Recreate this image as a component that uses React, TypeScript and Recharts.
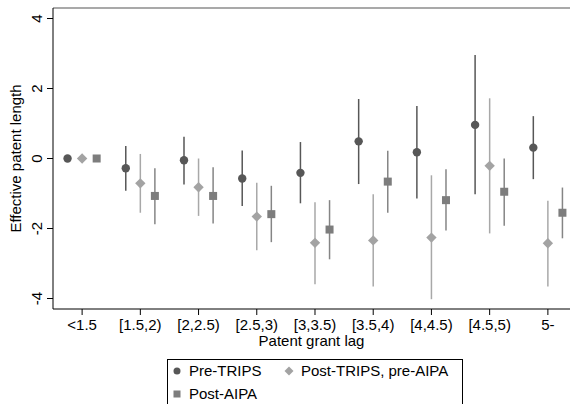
import { ErrorBar, Label, ReferenceLine, Scatter, ScatterChart, XAxis, YAxis } from 'recharts';

const categories = ['<1.5', '[1.5,2)', '[2,2.5)', '[2.5,3)', '[3,3.5)', '[3.5,4)', '[4,4.5)', '[4.5,5)', '5-'];

const preTrips = [0, -0.28, -0.05, -0.57, -0.41, 0.49, 0.18, 0.96, 0.31];
const preTripsLo = [0, -0.92, -0.74, -1.36, -1.28, -0.73, -1.14, -1.02, -0.59];
const preTripsHi = [0, 0.36, 0.62, 0.23, 0.47, 1.7, 1.5, 2.96, 1.21];

const postTrips = [0, -0.71, -0.82, -1.66, -2.41, -2.34, -2.26, -0.21, -2.42];
const postTripsLo = [0, -1.55, -1.64, -2.62, -3.59, -3.66, -4.02, -2.14, -3.66];
const postTripsHi = [0, 0.13, 0.0, -0.69, -1.25, -1.02, -0.48, 1.72, -1.21];

const postAipa = [0, -1.07, -1.07, -1.59, -2.03, -0.66, -1.19, -0.95, -1.55];
const postAipaLo = [0, -1.88, -1.86, -2.39, -2.88, -1.55, -2.06, -1.92, -2.28];
const postAipaHi = [0, -0.28, -0.25, -0.78, -1.19, 0.22, -0.31, 0.0, -0.83];

const yTicks = [-4, -2, 0, 2, 4];
const xTicks = categories.map((_, i) => i + 1);

const FONT = '"Liberation Sans", Arial, sans-serif';

function build(vals: number[], lo: number[], hi: number[], shift: number) {
  return vals.map((v, i) => ({
    x: i + 1 + shift,
    y: v,
    err: [v - lo[i], hi[i] - v],
  }));
}

const series = [
  { name: 'Pre-TRIPS', data: build(preTrips, preTripsLo, preTripsHi, -0.25), fill: '#575757', line: '#575757', kind: 'circle' },
  { name: 'Post-TRIPS, pre-AIPA', data: build(postTrips, postTripsLo, postTripsHi, 0), fill: '#a3a3a3', line: '#a8a8a8', kind: 'diamond' },
  { name: 'Post-AIPA', data: build(postAipa, postAipaLo, postAipaHi, 0.25), fill: '#7d7d7d', line: '#858585', kind: 'square' },
];

function Marker({ kind, cx, cy, fill }: { kind: string; cx: number; cy: number; fill: string }) {
  if (kind === 'circle') return <circle cx={cx} cy={cy} r={4.2} fill={fill} />;
  if (kind === 'diamond') {
    const d = 5.2;
    return <polygon points={`${cx},${cy - d} ${cx + d},${cy} ${cx},${cy + d} ${cx - d},${cy}`} fill={fill} />;
  }
  return <rect x={cx - 4} y={cy - 4} width={8} height={8} fill={fill} />;
}

function YTick({ x, y, payload }: any) {
  return (
    <text x={x} y={y} transform={`rotate(-90 ${x} ${y})`} textAnchor="middle" fill="#000" fontSize={15} fontFamily={FONT}>
      {payload.value}
    </text>
  );
}

export default function App() {
  return (
    <div style={{ position: 'absolute', left: 0, top: 0, width: 571, height: 404, overflow: 'hidden', background: '#fff' }}>
      <ScatterChart width={571} height={404} margin={{ top: 8, right: 1, bottom: 0, left: 0 }}>
        <XAxis
          type="number"
          dataKey="x"
          domain={[0.5, 9.38]}
          ticks={xTicks}
          interval={0}
          allowDataOverflow
          tickFormatter={(v: number) => categories[v - 1]}
          height={95}
          tickSize={6}
          tickMargin={4}
          stroke="#000"
          tick={{ fill: '#000', fontSize: 15, fontFamily: FONT }}
        >
          <Label value="Patent grant lag" position="insideTop" offset={26} fill="#000" fontSize={15} fontFamily={FONT} />
        </XAxis>
        <YAxis
          type="number"
          dataKey="y"
          domain={[-4.3, 4.3]}
          ticks={yTicks}
          allowDataOverflow
          width={53}
          tickSize={6}
          tickMargin={5}
          stroke="#000"
          tick={<YTick />}
        >
          <Label
            content={({ viewBox }: any) => {
              const x = viewBox.x + 21;
              const y = viewBox.y + viewBox.height / 2;
              return (
                <text x={x} y={y} transform={`rotate(-90 ${x} ${y})`} textAnchor="middle" fill="#000" fontSize={15} fontFamily={FONT}>
                  Effective patent length
                </text>
              );
            }}
          />
        </YAxis>
        <ReferenceLine y={4.3} stroke="#555" strokeWidth={1.2} />
        {series.map((s) => (
          <Scatter
            key={s.name}
            name={s.name}
            data={s.data}
            isAnimationActive={false}
            shape={(p: any) => <Marker kind={s.kind} cx={p.cx} cy={p.cy} fill={s.fill} />}
          >
            <ErrorBar dataKey="err" direction="y" width={0} stroke={s.line} strokeWidth={1.5} isAnimationActive={false} />
          </Scatter>
        ))}
      </ScatterChart>
      <svg width={571} height={404} style={{ position: 'absolute', left: 0, top: 0, pointerEvents: 'none' }}>
        <rect x={167.5} y={359.5} width={295} height={60} fill="#fff" stroke="#000" />
        {[
          { s: series[0], x: 177, y: 371 },
          { s: series[1], x: 289, y: 371 },
          { s: series[2], x: 177, y: 394 },
        ].map(({ s, x, y }) => (
          <g key={s.name}>
            {s.kind === 'circle' && <circle cx={x} cy={y} r={3.5} fill={s.fill} />}
            {s.kind === 'diamond' && <polygon points={`${x},${y - 4.5} ${x + 4.5},${y} ${x},${y + 4.5} ${x - 4.5},${y}`} fill={s.fill} />}
            {s.kind === 'square' && <rect x={x - 3.5} y={y - 3.5} width={7} height={7} fill={s.fill} />}
            <text x={x + 12} y={y + 5} fill="#000" fontSize={15} fontFamily={FONT}>
              {s.name}
            </text>
          </g>
        ))}
      </svg>
    </div>
  );
}
